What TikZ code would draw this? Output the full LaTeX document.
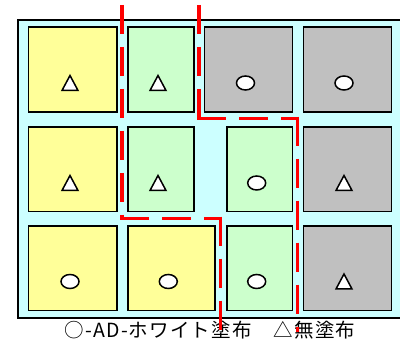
\documentclass[tikz,border=0pt]{standalone}
\usepackage{fontspec}
\newfontfamily\jpfont[LetterSpace=6]{Noto Sans CJK JP}
\usetikzlibrary{fit,shapes.geometric,calc}
\definecolor{bgcyan}{HTML}{CCFFFF}
\definecolor{byellow}{HTML}{FFFF99}
\definecolor{bgreen}{HTML}{CCFFCC}
\definecolor{bgray}{HTML}{C0C0C0}
\begin{document}
\begin{tikzpicture}[x=1pt,y=-1pt,
  box/.style={draw=black, line width=1.3pt, inner sep=0pt},
  ybox/.style={box, fill=byellow},
  gbox/.style={box, fill=bgreen},
  kbox/.style={box, fill=bgray},
  symb/.style={draw=black, fill=white, line width=1.5pt, line join=miter},
  circsym/.style={symb, ellipse, minimum width=18pt, minimum height=14pt, inner sep=0pt},
  redline/.style={draw=red, line width=3.5pt, dash pattern=on 29pt off 13pt},
  legendtext/.style={font=\jpfont\fontsize{19.5}{19.5}\selectfont, inner sep=0pt}]
\useasboundingbox (0,0) rectangle (400,344);
% frame
\fill[bgcyan] (18,20) rectangle (400,318);
\draw[line width=1.3pt] (400,20) -- (18,20) -- (18,318) -- (400,318);
% row 1
\node[ybox, fit={(28.5,27) (117,112)}] (r1c1) {};
\node[gbox, fit={(128,27) (194,112)}] (r1c2) {};
\node[kbox, fit={(204.5,27) (292.5,112)}] (r1c3) {};
\node[kbox, fit={(303.5,27) (391.5,112)}] (r1c4) {};
% row 2
\node[ybox, fit={(28.5,127) (117,211.5)}] (r2c1) {};
\node[gbox, fit={(128,127) (194,211.5)}] (r2c2) {};
\node[gbox, fit={(227,127) (292.5,211.5)}] (r2c3) {};
\node[kbox, fit={(303.5,127) (391.5,211.5)}] (r2c4) {};
% row 3
\node[ybox, fit={(28.5,226) (117,310.5)}] (r3c1) {};
\node[ybox, fit={(128,226) (215,310.5)}] (r3c2) {};
\node[gbox, fit={(227,226) (292.5,310.5)}] (r3c3) {};
\node[kbox, fit={(303.5,226) (391.5,310.5)}] (r3c4) {};
% symbols
\draw[symb, shift={(70,83)}] (-8,7.5) -- (0,-7.5) -- (8,7.5) -- cycle;
\draw[symb, shift={(158,83)}] (-8,7.5) -- (0,-7.5) -- (8,7.5) -- cycle;
\node[circsym] (s13) at (245.5,83) {};
\node[circsym] (s14) at (344,83) {};
\draw[symb, shift={(70,183)}] (-8,7.5) -- (0,-7.5) -- (8,7.5) -- cycle;
\draw[symb, shift={(158,183)}] (-8,7.5) -- (0,-7.5) -- (8,7.5) -- cycle;
\node[circsym] (s23) at (256.7,183) {};
\draw[symb, shift={(344,183)}] (-8,7.5) -- (0,-7.5) -- (8,7.5) -- cycle;
\node[circsym] (s31) at (70,281.5) {};
\node[circsym] (s32) at (168.3,281.5) {};
\node[circsym] (s33) at (256.7,281.5) {};
\draw[symb, shift={(344,281.5)}] (-8,7.5) -- (0,-7.5) -- (8,7.5) -- cycle;
% legend
\node[legendtext] (legend) at (210,330) {○-AD-ホワイト塗布　△無塗布};
% red dashed boundaries
\coordinate (a1) at (122,5);
\coordinate (a2) at (122,218.3);
\coordinate (a3) at (220.7,218.3);
\coordinate (a4) at (220.7,338);
\coordinate (b1) at (199,5);
\coordinate (b2) at (199,118.3);
\coordinate (b3) at (297.3,118.3);
\coordinate (b4) at (297.3,332);
\draw[redline] (a1) -- (a2);
\draw[redline] ($(a2)+(-1.75,0)$) -- (a3);
\draw[redline] ($(a3)+(0,-1.75)$) -- (a4);
\draw[redline] (b1) -- (b2);
\draw[redline] ($(b2)+(-1.75,0)$) -- (b3);
\draw[redline] ($(b3)+(0,-1.75)$) -- (b4);
\end{tikzpicture}
\end{document}
